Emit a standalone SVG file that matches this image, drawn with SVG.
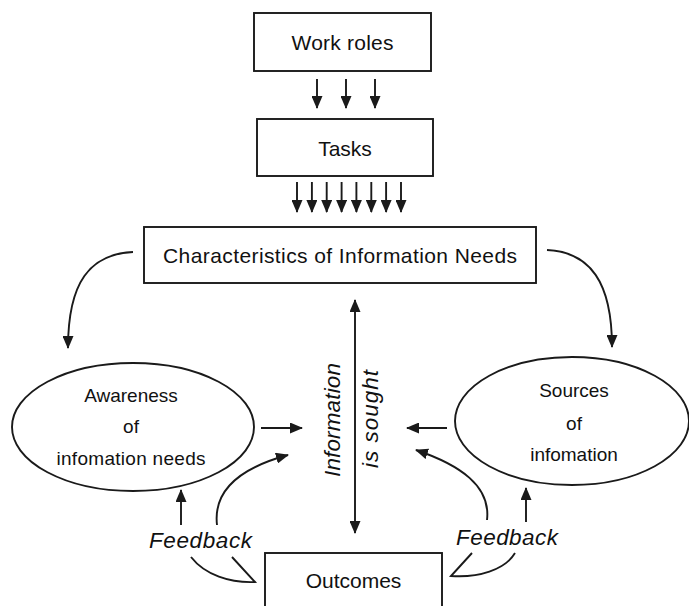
<svg xmlns="http://www.w3.org/2000/svg" width="689" height="606" viewBox="0 0 689 606">
<style>
.box{fill:#fff;stroke:#1a1a1a;stroke-width:1.9}
.ell{fill:#fff;stroke:#1a1a1a;stroke-width:1.9}
.t{font-family:"Liberation Sans",Arial,sans-serif;font-size:21px;fill:#111;text-anchor:middle}
.te{font-family:"Liberation Sans",Arial,sans-serif;font-size:19px;fill:#111;text-anchor:middle}
.ti{font-family:"Liberation Sans",Arial,sans-serif;font-size:22.5px;font-style:italic;fill:#111;text-anchor:middle}
.c{fill:none;stroke:#1a1a1a;stroke-width:1.9}
.a{marker-end:url(#ah)}
</style>
<defs>
<marker id="ah" viewBox="0 0 13 11" refX="12" refY="5.5" markerWidth="13" markerHeight="11" markerUnits="userSpaceOnUse" orient="auto">
<path d="M0,0 L13,5.5 L0,11 z" fill="#1a1a1a"/>
</marker>
<marker id="ahs" viewBox="0 0 13 11" refX="12" refY="5.5" markerWidth="13" markerHeight="11" markerUnits="userSpaceOnUse" orient="auto-start-reverse">
<path d="M0,0 L13,5.5 L0,11 z" fill="#1a1a1a"/>
</marker>
</defs>
<rect width="689" height="606" fill="#fff"/>
<g id="connectors">
<path class="c a" d="M317,79 L317,108"/>
<path class="c a" d="M346,79 L346,108"/>
<path class="c a" d="M375,79 L375,108"/>
<path class="c a" d="M297,182 L297,212"/>
<path class="c a" d="M311.9,182 L311.9,212"/>
<path class="c a" d="M326.7,182 L326.7,212"/>
<path class="c a" d="M341.6,182 L341.6,212"/>
<path class="c a" d="M356.4,182 L356.4,212"/>
<path class="c a" d="M371.3,182 L371.3,212"/>
<path class="c a" d="M386.1,182 L386.1,212"/>
<path class="c a" d="M401,182 L401,212"/>
<path class="c a" d="M133,252 C90,254 68,282 68,348"/>
<path class="c a" d="M547,250 C590,252 612,282 612,347"/>
<path class="c" d="M355,300 L355,533" marker-start="url(#ahs)" marker-end="url(#ahs)"/>
<path class="c a" d="M261,428 L302,428"/>
<path class="c a" d="M447,428 L407,428"/>
<path class="c a" d="M217,525 C213,490 240,468 288,455"/>
<path class="c a" d="M487,520 C491,486 460,465 416,450"/>
<path class="c a" d="M181,525 L181,490"/>
<path class="c a" d="M526,522 L526,488"/>
<path class="c" d="M191,557 C205,575 230,583 255,582 L232,557"/>
<path class="c" d="M472,553 L451,576 C478,578 505,570 515,553"/>
</g>
<g id="work-roles">
<rect class="box" x="254" y="13" width="177" height="58"/>
<text class="t" x="342.5" y="50" textLength="102" lengthAdjust="spacing">Work  roles</text>
</g>
<g id="tasks">
<rect class="box" x="257" y="119" width="176" height="57"/>
<text class="t" x="345" y="156">Tasks</text>
</g>
<g id="characteristics">
<rect class="box" x="144" y="227" width="392" height="56"/>
<text class="t" x="340" y="263" textLength="354" lengthAdjust="spacing">Characteristics  of  Information  Needs</text>
</g>
<g id="awareness">
<ellipse class="ell" cx="133" cy="427" rx="121" ry="64"/>
<text class="te" x="131" y="402">Awareness</text>
<text class="te" x="131" y="433">of</text>
<text class="te" x="131" y="465" textLength="149" lengthAdjust="spacing">infomation  needs</text>
</g>
<g id="sources">
<ellipse class="ell" cx="572" cy="421" rx="117" ry="64"/>
<text class="te" x="574" y="397">Sources</text>
<text class="te" x="574" y="430">of</text>
<text class="te" x="574" y="461">infomation</text>
</g>
<g id="information-sought">
<text class="ti" transform="translate(340,420) rotate(-90)" textLength="114" lengthAdjust="spacing">Information</text>
<text class="ti" transform="translate(378,419) rotate(-90)" textLength="98" lengthAdjust="spacing">is  sought</text>
</g>
<g id="feedback-left">
<text class="ti" x="200.5" y="548" textLength="103" lengthAdjust="spacing">Feedback</text>
</g>
<g id="feedback-right">
<text class="ti" x="507" y="545" textLength="102" lengthAdjust="spacing">Feedback</text>
</g>
<g id="outcomes">
<rect class="box" x="265" y="553" width="177" height="70"/>
<text class="t" x="353.5" y="588">Outcomes</text>
</g>
</svg>
